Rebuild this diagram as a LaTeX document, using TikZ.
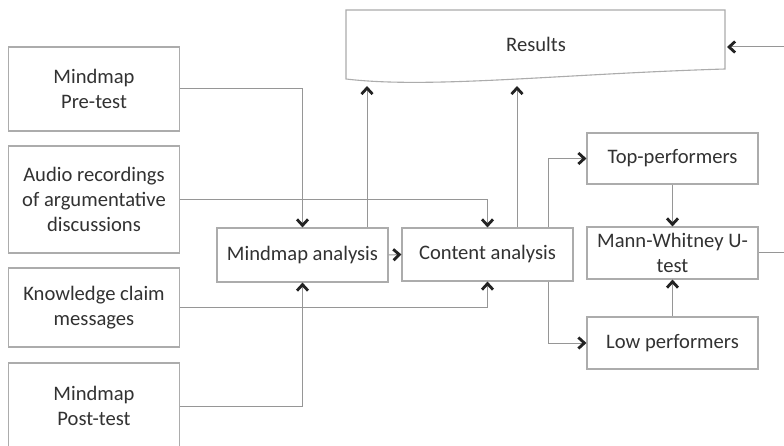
\documentclass[tikz,border=0pt]{standalone}
\usepackage{fontspec}
\setmainfont{Carlito}
\usetikzlibrary{arrows.meta}
\definecolor{lineG}{RGB}{150,150,150}
\definecolor{boxG}{RGB}{172,172,172}
\definecolor{txtG}{RGB}{50,50,50}
\definecolor{tipG}{RGB}{35,35,35}
\begin{document}
\begin{tikzpicture}[x=1pt,y=-1pt,
  every node/.style={font=\fontsize{20.6}{25}\selectfont, text=txtG},
  box/.style={draw=boxG, line width=1.1pt, fill=white, align=center,
    minimum width=171pt, inner sep=0pt},
  link/.style={draw=lineG, line width=1pt},
  arr/.style={link, -{Straight Barb[length=6pt,width=11pt,line width=2.8pt,color=tipG]}}]
\useasboundingbox (0,0) rectangle (784,446);
\clip (0,0) rectangle (784,446);
\fill[white] (0,0) rectangle (784,446);

% result sheet with wavy lower edge
\draw[boxG, line width=1.1pt, fill=white]
  (346,10) -- (725,10) -- (725,69)
  .. controls (560,74) and (430,89) .. (346,79) -- cycle;
\node (results) at (536,44) {Results};
\coordinate (rA) at (367,86);
\coordinate (rB) at (517,86);
\coordinate (rC) at (727,47);

% inputs
\node[box, minimum height=84pt]  (pre)   at (94,89)    {Mindmap\\Pre-test};
\node[box, minimum height=107pt] (audio) at (94,199.5) {Audio recordings\\of argumentative\\discussions};
\node[box, minimum height=79pt]  (know)  at (94,307.5) {Knowledge claim\\messages};
\node[box, minimum height=86pt]  (post)  at (94,406)   {Mindmap\\Post-test};

% analysis steps
\node[box, minimum height=54pt] (mma) at (302.5,255)   {Mindmap analysis};
\node[box, minimum height=53pt] (ca)  at (487.5,254.5) {Content analysis};
\node[box, minimum height=51pt] (top) at (672.5,158.5) {Top-performers};
\node[box, minimum height=52pt] (mw)  at (672.5,253)   {Mann-Whitney U-\\test};
\node[box, minimum height=52pt] (low) at (672.5,343)   {Low performers};

\coordinate (split) at (548,0);
\coordinate (edge) at (795,0);

% connectors
\draw[arr] (pre.east)   -| (mma.north);
\draw[arr] (post.east)  -| (mma.south);
\draw[arr] (audio.east) -| (ca.north);
\draw[arr] (know.east)  -| (ca.south);
\draw[arr] (mma.east) -- (ca.west);
\draw[arr] (mma.north -| rA) -- (rA);
\draw[arr] (ca.north -| rB) -- (rB);
\draw[arr] (ca.north -| split) |- (top.west);
\draw[arr] (ca.south -| split) |- (low.west);
\draw[arr] (top.south) -- (mw.north);
\draw[arr] (low.north) -- (mw.south);
\draw[arr] (mw.east) -| (edge |- rC) -- (rC);
\end{tikzpicture}
\end{document}
